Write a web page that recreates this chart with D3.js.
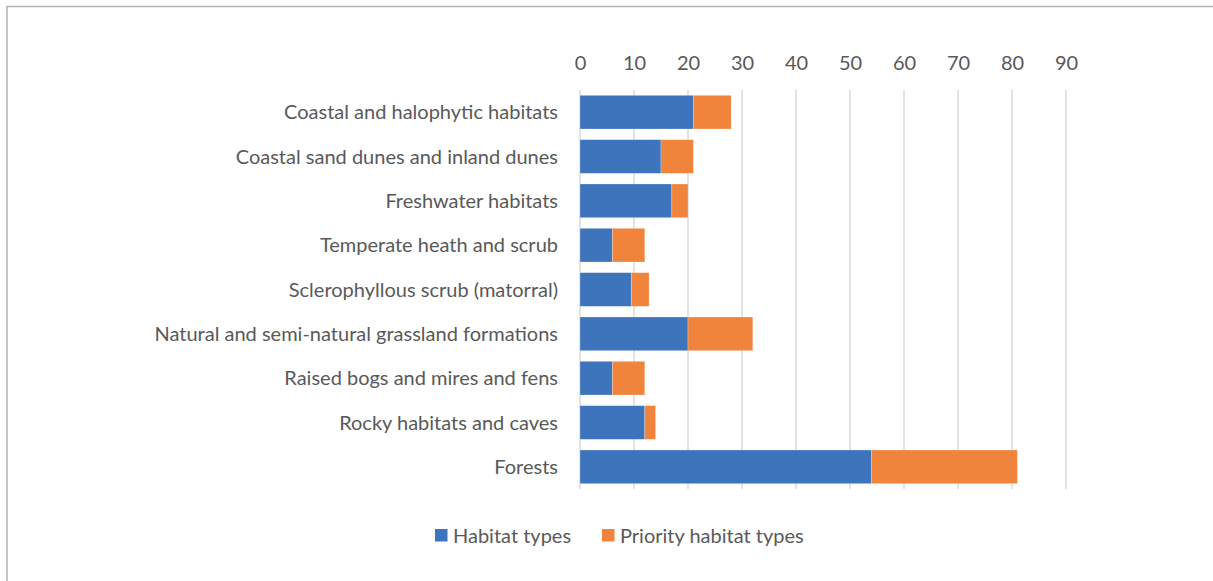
<!DOCTYPE html>
<html>
<head>
<meta charset="utf-8">
<script src="https://cdn.jsdelivr.net/npm/d3@7"></script>
<style>
  html, body { margin: 0; padding: 0; background: #fff; }
  svg { display: block; }
</style>
</head>
<body>
<svg id="chart" width="1213" height="581"></svg>
<script>
const categories = [
  "Coastal and halophytic habitats",
  "Coastal sand dunes and inland dunes",
  "Freshwater habitats",
  "Temperate heath and scrub",
  "Sclerophyllous scrub (matorral)",
  "Natural and semi-natural grassland formations",
  "Raised bogs and mires and fens",
  "Rocky habitats and caves",
  "Forests"
];
const habitatTypes = [21, 15, 17, 6, 9.5, 20, 6, 12, 54];
const priorityHabitatTypes = [7, 6, 3, 6, 3.3, 12, 6, 2, 27];
const seriesNames = ["Habitat types", "Priority habitat types"];
const tickValues = [0, 10, 20, 30, 40, 50, 60, 70, 80, 90];

const colors = ["#3D74BC", "#F1843D"];
const textColor = "#595959";
const font = "Lato, 'Open Sans', sans-serif";

const svg = d3.select("#chart");
const W = 1213, H = 581;

// outer frame (top and left edges visible)
svg.append("path")
  .attr("d", `M7,${H} L7,6.5 L${W},6.5`)
  .attr("fill", "none")
  .attr("stroke", "#b3b3b3")
  .attr("stroke-width", 1.5);

const plot = { left: 580, right: 1066, top: 90, bottom: 489 };

const x = d3.scaleLinear().domain([0, 90]).range([plot.left, plot.right]);
const y = d3.scaleBand().domain(categories).range([plot.top, plot.bottom]).paddingInner(0.24).paddingOuter(0.12);

// gridlines
svg.append("g")
  .selectAll("line")
  .data(tickValues)
  .join("line")
  .attr("x1", d => x(d)).attr("x2", d => x(d))
  .attr("y1", plot.top).attr("y2", plot.bottom)
  .attr("stroke", "#d9d9d9")
  .attr("stroke-width", 1.5);

// top axis labels
const axis = d3.axisTop(x).tickValues(tickValues).tickSize(0).tickPadding(0);
const axisG = svg.append("g").attr("transform", `translate(0,${plot.top - 20})`).call(axis);
axisG.select(".domain").remove();
axisG.selectAll("text")
  .attr("fill", textColor)
  .style("font-family", font)
  .style("font-size", "20px");

// stacked data
const rows = categories.map((c, i) => ({ cat: c, a: habitatTypes[i], b: priorityHabitatTypes[i] }));
const stack = d3.stack().keys(["a", "b"])(rows);

svg.append("g")
  .selectAll("g")
  .data(stack)
  .join("g")
  .attr("fill", (d, i) => colors[i])
  .selectAll("rect")
  .data(d => d)
  .join("rect")
  .attr("x", d => x(d[0]))
  .attr("y", d => y(d.data.cat))
  .attr("width", d => x(d[1]) - x(d[0]))
  .attr("height", y.bandwidth())
  .attr("stroke", "#ffffff")
  .attr("stroke-opacity", 0.35)
  .attr("stroke-width", 0.75);

// category labels
svg.append("g")
  .selectAll("text")
  .data(categories)
  .join("text")
  .attr("x", 558)
  .attr("y", d => y(d) + y.bandwidth() / 2)
  .attr("dy", "0.35em")
  .attr("text-anchor", "end")
  .attr("fill", textColor)
  .style("font-family", font)
  .style("font-size", "20px")
  .text(d => d);

// legend
const legendItems = [
  { name: seriesNames[0], color: colors[0], x: 435 },
  { name: seriesNames[1], color: colors[1], x: 602 }
];
const lg = svg.append("g").selectAll("g").data(legendItems).join("g")
  .attr("transform", d => `translate(${d.x},529)`);
lg.append("rect").attr("width", 12.5).attr("height", 12.5).attr("fill", d => d.color);
lg.append("text")
  .attr("x", 18).attr("y", 7).attr("dy", "0.35em")
  .attr("fill", textColor)
  .style("font-family", font)
  .style("font-size", "20px")
  .text(d => d.name);
</script>
</body>
</html>
